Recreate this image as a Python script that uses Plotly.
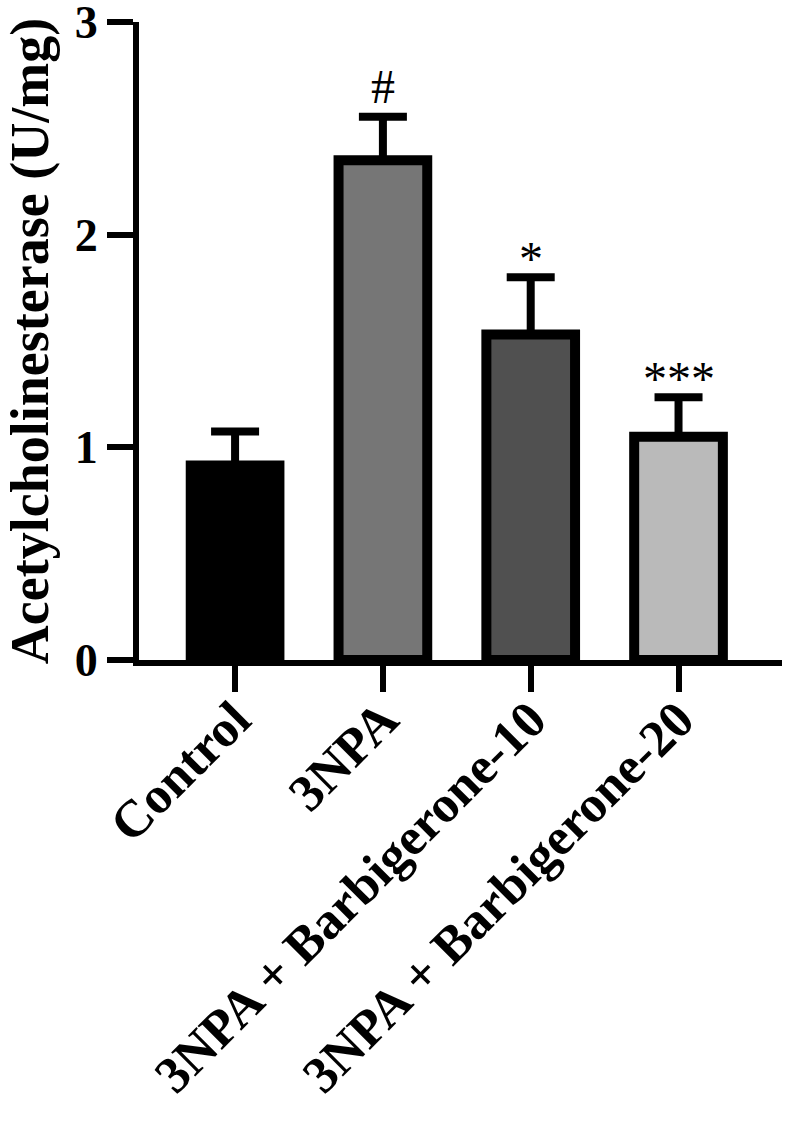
import plotly.graph_objects as go

categories = ["Control", "3NPA", "3NPA + Barbigerone-10", "3NPA + Barbigerone-20"]
means = [0.915, 2.35, 1.53, 1.05]
errors = [0.16, 0.205, 0.27, 0.185]
fills = ["#000000", "#767676", "#505050", "#bababa"]
signif = ["", "#", "*", "***"]
y_ticks = [0, 1, 2, 3]

FONT = "Liberation Serif"

fig = go.Figure()
fig.add_trace(go.Bar(
    x=categories,
    y=means,
    width=0.6,
    marker=dict(color=fills, line=dict(color="#000000", width=10)),
    error_y=dict(type="data", symmetric=False, array=errors,
                 arrayminus=[0] * len(errors),
                 color="#000000", thickness=8, width=24),
))

for c, m, e, s in zip(categories, means, errors, signif):
    if s:
        fig.add_annotation(x=c, y=m + e, text=s, showarrow=False,
                           yanchor="bottom",
                           yshift=2 if s == "#" else -10,
                           font=dict(family=FONT, size=48, color="#000000"))

fig.update_layout(
    width=788, height=1134,
    margin=dict(l=139, r=6, t=22, b=474),
    paper_bgcolor="white", plot_bgcolor="white",
    showlegend=False,
    font=dict(family=FONT, color="#000000"),
)
fig.update_xaxes(
    range=[-0.65, 3.70], automargin=False,
    showline=True, linewidth=6, linecolor="#000000",
    ticks="outside", ticklen=26, tickwidth=6, tickcolor="#000000",
    tickangle=-45, ticklabelstandoff=-24,
    tickfont=dict(family=FONT, size=52, color="#000000", weight="bold"),
    showgrid=False, zeroline=False,
)
fig.update_yaxes(
    range=[0, 3], tickvals=y_ticks, automargin=False,
    showline=True, linewidth=6, linecolor="#000000",
    ticks="outside", ticklen=26, tickwidth=6, tickcolor="#000000",
    ticklabeloverflow="allow",
    tickfont=dict(family=FONT, size=46, color="#000000", weight="bold"),
    showgrid=False, zeroline=False,
    title=dict(text="Acetylcholinesterase (U/mg)", standoff=26,
               font=dict(family=FONT, size=54, color="#000000", weight="bold")),
)

fig.write_html("out.html")
